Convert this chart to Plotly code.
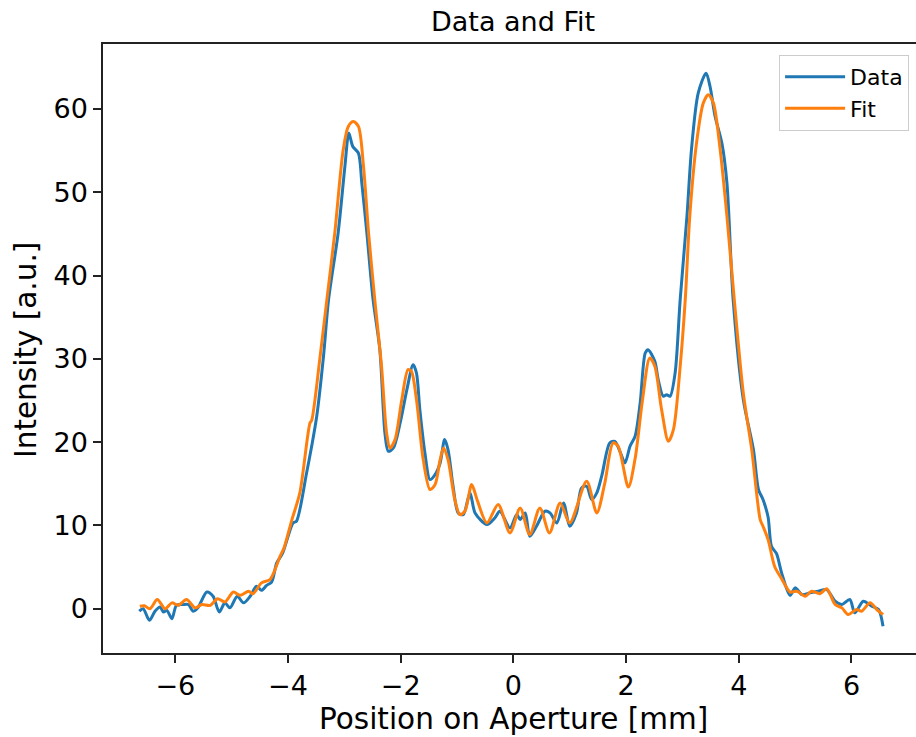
import plotly.graph_objects as go

# ---- Data ----
data_x = [-6.64, -6.57, -6.46, -6.36, -6.27, -6.21, -6.15, -6.06, -5.98, -5.86, -5.77, -5.68, -5.60,
          -5.44, -5.33, -5.22, -5.12, -5.03, -4.90, -4.79, -4.67, -4.56, -4.47, -4.38, -4.29, -4.20,
          -4.10, -3.91, -3.85, -3.67, -3.58, -3.49, -3.37, -3.28, -3.11, -2.99, -2.92, -2.85, -2.75,
          -2.69, -2.60, -2.49, -2.37, -2.28, -2.22, -2.13, -2.01, -1.89, -1.78, -1.72, -1.66, -1.57,
          -1.48, -1.39, -1.30, -1.22, -1.16, -1.07, -0.98, -0.89, -0.77, -0.68, -0.47, -0.33, -0.24,
          -0.06, 0.06, 0.12, 0.21, 0.29, 0.41, 0.56, 0.65, 0.77, 0.89, 1.00, 1.12, 1.21, 1.30, 1.39,
          1.48, 1.57, 1.71, 1.80, 1.89, 1.98, 2.07, 2.16, 2.25, 2.34, 2.39, 2.51, 2.57, 2.66, 2.72,
          2.78, 2.87, 2.96, 3.08, 3.16, 3.28, 3.42, 3.49, 3.58, 3.70, 3.79, 3.90, 4.08, 4.26, 4.35,
          4.43, 4.52, 4.58, 4.67, 4.76, 4.91, 5.00, 5.12, 5.26, 5.41, 5.56, 5.71, 5.83, 5.97, 6.06,
          6.21, 6.36, 6.48, 6.56]
data_y = [-0.3, 0.0, -1.4, -0.3, 0.2, -0.4, -0.2, -1.2, 0.4, 0.5, 0.5, -0.3, 0.1,
          2.0, 1.5, -0.4, 0.7, 0.1, 1.5, 0.7, 1.5, 2.7, 2.2, 2.8, 3.2, 5.5,
          6.6, 10.3, 10.5, 16.3, 19.5, 23.1, 30.3, 37.1, 45.1, 53.1, 57.1, 55.5, 54.7,
          51.1, 45.1, 37.1, 31.1, 21.1, 18.9, 19.3, 22.3, 26.3, 29.3, 28.3, 23.9, 18.7,
          15.5, 16.1, 17.5, 20.3, 19.1, 14.7, 11.5, 11.3, 13.9, 11.5, 10.1, 10.9, 11.7,
          9.7, 11.3, 10.7, 11.5, 8.7, 9.9, 11.7, 11.5, 10.3, 12.7, 9.9, 11.5, 14.5, 14.7, 13.1,
          13.9, 16.0, 19.9, 20.1, 18.9, 17.5, 19.5, 20.7, 24.7, 30.7, 31.1, 29.7, 27.5, 25.5, 25.7,
          25.5, 28.3, 37.1, 47.1, 55.1, 61.9, 64.3, 62.7, 59.1, 55.9, 51.1, 37.1, 25.1, 19.1, 14.3,
          13.1, 11.0, 7.5, 6.6, 4.3, 1.6, 2.5, 1.7, 1.9, 2.1, 2.3, 0.9, 0.5, 1.1, -0.5,
          0.9, 0.3, -0.1, -2.1]

fit_x = [-6.63, -6.55, -6.45, -6.32, -6.18, -6.06, -5.95, -5.80, -5.65, -5.53, -5.38, -5.25, -5.12,
         -4.97, -4.85, -4.70, -4.62, -4.47, -4.32, -4.23, -4.14, -4.07, -3.93, -3.79, -3.61, -3.58,
         -3.43, -3.31, -3.17, -3.02, -2.93, -2.84, -2.75, -2.66, -2.57, -2.46, -2.34, -2.25, -2.19,
         -2.10, -1.98, -1.87, -1.81, -1.72, -1.60, -1.48, -1.39, -1.30, -1.24, -1.16, -1.04, -0.95,
         -0.86, -0.74, -0.64, -0.47, -0.27, -0.06, 0.12, 0.29, 0.47, 0.64, 0.83, 1.00, 1.30, 1.48,
         1.62, 1.77, 1.86, 2.04, 2.16, 2.29, 2.42, 2.51, 2.63, 2.75, 2.84, 2.96, 3.05, 3.13, 3.25,
         3.37, 3.46, 3.55, 3.67, 3.79, 3.92, 4.08, 4.23, 4.38, 4.43, 4.52, 4.64, 4.76, 4.91, 5.03,
         5.18, 5.29, 5.44, 5.56, 5.71, 5.83, 5.94, 6.09, 6.18, 6.33, 6.45, 6.56]
fit_y = [0.3, 0.35, 0.0, 1.1, 0.0, 0.7, 0.4, 1.1, 0.1, 0.5, 0.4, 1.2, 0.8,
         2.0, 1.6, 2.1, 1.8, 3.1, 3.5, 4.7, 6.3, 7.3, 10.7, 13.9, 22.3, 22.6,
         30.3, 37.1, 45.1, 55.1, 57.9, 58.5, 57.9, 53.1, 45.1, 37.1, 29.1, 21.1, 19.3,
         20.3, 25.1, 28.7, 28.5, 25.1, 17.9, 14.3, 14.9, 17.9, 19.3, 17.9, 13.1, 11.3,
         11.7, 14.9, 13.0, 10.3, 12.5, 9.1, 12.1, 8.9, 12.1, 9.1, 12.7, 10.3, 15.3, 11.5,
         15.0, 19.9, 19.5, 14.6, 18.0, 25.0, 30.1, 29.1, 23.9, 20.1, 21.5, 29.1, 37.1, 47.1, 55.9,
         60.7, 61.7, 60.7, 55.1, 47.1, 37.1, 25.9, 19.1, 10.7, 9.9, 8.3, 5.0, 3.6, 2.0, 2.1,
         1.5, 2.1, 1.8, 2.4, 0.5, 0.1, -0.7, -0.1, -0.3, 0.7, -0.1, -0.7]

x_ticks = [-6, -4, -2, 0, 2, 4, 6]
x_ticktext = ["\u22126", "\u22124", "\u22122", "0", "2", "4", "6"]
y_ticks = [0, 10, 20, 30, 40, 50, 60]

FONT = "DejaVu Sans"

fig = go.Figure()
fig.add_trace(go.Scatter(x=data_x, y=data_y, mode="lines", name="Data",
                         legendgroup="a",
                         line=dict(color="#1f77b4", width=3, shape="spline", smoothing=0.8)))
fig.add_trace(go.Scatter(x=fit_x, y=fit_y, mode="lines", name="Fit",
                         legendgroup="b",
                         line=dict(color="#ff7f0e", width=3, shape="spline", smoothing=0.8)))

W, H = 916, 737
L, R, T, B = 103, 0, 44, 84

fig.update_layout(
    width=W, height=H,
    margin=dict(l=L, r=R, t=T, b=B, pad=0),
    paper_bgcolor="white", plot_bgcolor="white",
    font=dict(family=FONT, color="black"),
    title=dict(text="Data and Fit", font=dict(size=27, family=FONT, color="black"),
               x=(513 - L) / (W - L), xref="paper", xanchor="center",
               y=1 - 22 / H, yref="container", yanchor="middle"),
    showlegend=True,
    legend=dict(x=0.9915, xanchor="right", y=0.982, yanchor="top",
                bgcolor="rgba(255,255,255,0.8)", bordercolor="#cccccc", borderwidth=1,
                font=dict(size=22, family=FONT, color="black"),
                itemwidth=60,
                traceorder="grouped", tracegroupgap=0),
    xaxis=dict(range=[-7.283, 7.145], tickvals=x_ticks, ticktext=x_ticktext,
               showgrid=False, zeroline=False, showline=True, linecolor="#222222", linewidth=1.5,
               mirror=True, ticks="outside", ticklen=8, tickwidth=1.5, tickcolor="#222222",
               tickfont=dict(size=27, family=FONT, color="black")),
    yaxis=dict(range=[-5.32, 67.8], tickvals=y_ticks,
               showgrid=False, zeroline=False, showline=True, linecolor="#222222", linewidth=1.5,
               mirror=False, ticks="outside", ticklen=8, tickwidth=1.5, tickcolor="#222222",
               tickfont=dict(size=27, family=FONT, color="black")),
    annotations=[
        dict(text="Position on Aperture [mm]", xref="paper", yref="paper",
             x=(513 - L) / (W - L), y=-(719 - (H - B)) / (H - T - B),
             xanchor="center", yanchor="middle", showarrow=False,
             font=dict(size=29.5, family=FONT, color="black")),
        dict(text="Intensity [a.u.]", xref="paper", yref="paper",
             x=-(L - 26) / (W - L), y=((H - B) - 350) / (H - T - B),
             xanchor="center", yanchor="middle", showarrow=False, textangle=-90,
             font=dict(size=29.5, family=FONT, color="black")),
    ],
)

fig.write_html("out.html")
